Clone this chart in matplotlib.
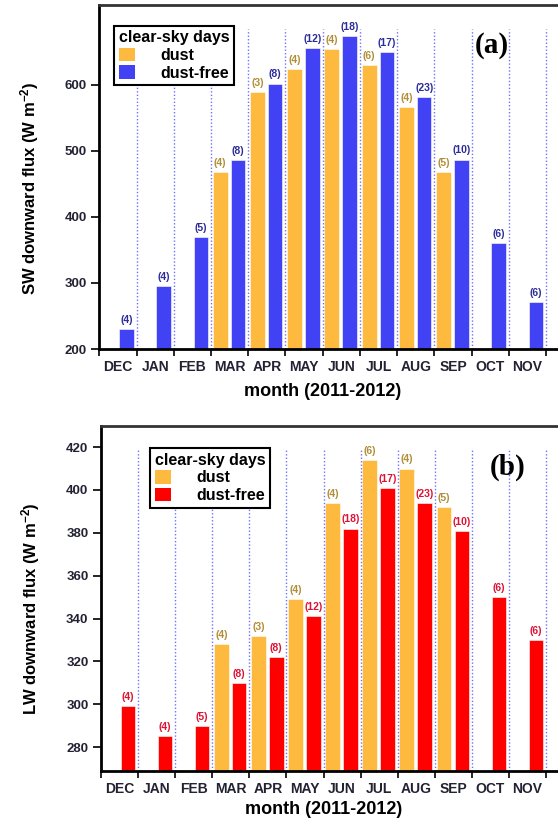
import numpy as np
import matplotlib.pyplot as plt
from matplotlib.patches import Patch

plt.rcParams['font.family'] = ['Liberation Sans', 'DejaVu Sans']
plt.rcParams['font.weight'] = 'bold'
plt.rcParams['axes.labelweight'] = 'bold'
plt.rcParams['mathtext.fontset'] = 'custom'
plt.rcParams['mathtext.rm'] = 'Liberation Sans:bold'
plt.rcParams['mathtext.default'] = 'rm'

# data (clear-sky monthly means)
months = ['DEC', 'JAN', 'FEB', 'MAR', 'APR', 'MAY', 'JUN', 'JUL', 'AUG', 'SEP', 'OCT', 'NOV']
sw_dust = [np.nan, np.nan, np.nan, 468, 589, 624, 654, 630, 566, 468, np.nan, np.nan]
sw_free = [230, 295, 369, 486, 602, 656, 674, 650, 581, 487, 360, 271]
lw_dust = [np.nan, np.nan, np.nan, 328, 332, 349, 394, 414, 410, 392, np.nan, np.nan]
lw_free = [299, 285, 290, 310, 322, 341, 382, 401, 394, 381, 350, 330]
n_dust = [None, None, None, 4, 3, 4, 4, 6, 4, 5, None, None]
n_free = [4, 4, 5, 8, 8, 12, 18, 17, 23, 10, 6, 6]

c_dust = '#FDBA3E'
c_sw = '#4242F5'
c_lw = '#FF0000'
lab_dust = '#B08E36'
lab_sw = '#2B2B99'
lab_lw = '#DD1133'
tick_col = '#222233'

fig = plt.figure(figsize=(5.58, 8.22), dpi=100)
ax1 = fig.add_axes([0.178, 0.5754, 0.822, 0.4185])
ax2 = fig.add_axes([0.181, 0.0624, 0.819, 0.4197])

x = np.arange(len(months))


def panel(ax, dust, free, cfree, labfree, ylim, yticks, ylabel, tag, tagpos, legpos, vtop):
    ax.bar(x + 0.245, dust, width=0.40, color=c_dust, edgecolor='white', linewidth=0.4)
    ax.bar(x + 0.725, free, width=0.39, color=cfree, edgecolor='white', linewidth=0.4)
    # counts of days above the bars
    for i in range(len(months)):
        if n_dust[i] is not None:
            ax.annotate('(%d)' % n_dust[i], (x[i] + 0.245, dust[i]), xytext=(0, 3),
                        textcoords='offset points', ha='center', va='bottom',
                        fontsize=7.5, color=lab_dust)
        ax.annotate('(%d)' % n_free[i], (x[i] + 0.725, free[i]), xytext=(0, 3),
                    textcoords='offset points', ha='center', va='bottom',
                    fontsize=7.5, color=labfree)
    # dotted month separators
    ax.vlines(np.arange(1, 13), ylim[0], vtop, colors='#7070FF', linestyles=(0, (1, 1.5)), linewidth=1)

    ax.set_xlim(0, 12.32)
    ax.set_ylim(*ylim)
    ax.set_yticks(yticks)
    ax.set_xticks(np.arange(0, 13))
    ax.set_xticklabels([])
    ax.set_xticks(x + 0.5, minor=True)
    ax.set_xticklabels(months, minor=True)
    ax.tick_params(axis='x', which='major', direction='out', length=5, width=1.2)
    ax.tick_params(axis='x', which='minor', length=0, pad=8, labelsize=10, labelcolor=tick_col)
    ax.tick_params(axis='y', direction='out', length=6, width=1.2, pad=3, labelsize=9.5,
                   labelcolor=tick_col)

    ax.spines['right'].set_visible(False)
    ax.spines['left'].set_linewidth(2)
    ax.spines['bottom'].set_linewidth(2)
    ax.spines['top'].set_linewidth(2)
    ax.spines['top'].set_color('#333333')

    ax.set_ylabel(ylabel, fontsize=12)
    ax.set_xlabel('month (2011-2012)', fontsize=13)
    ax.text(tagpos[0], tagpos[1], tag, fontsize=21, fontweight='bold',
            family='Liberation Serif', ha='center', va='center')

    handles = [Patch(facecolor=c_dust, label='dust'), Patch(facecolor=cfree, label='dust-free')]
    leg = ax.legend(handles=handles, title='clear-sky days', loc='upper left',
                    bbox_to_anchor=legpos, fancybox=False, framealpha=1,
                    edgecolor='black', fontsize=11.5, title_fontsize=11.5,
                    handlelength=1.0, handleheight=0.9, handletextpad=1.6,
                    borderpad=0.3, labelspacing=0.15, borderaxespad=0)
    leg.get_frame().set_linewidth(1.5)
    leg.get_title().set_fontweight('bold')


panel(ax1, sw_dust, sw_free, c_sw, lab_sw, (200, 721), [200, 300, 400, 500, 600],
      'SW downward flux (W m$^{-2}$)', '(a)', (10.55, 660), (0.032, 0.94), 685)
panel(ax2, lw_dust, lw_free, c_lw, lab_lw, (269, 430), np.arange(280, 421, 20),
      'LW downward flux (W m$^{-2}$)', '(b)', (10.95, 410.5), (0.107, 0.935), 419)

ax1.yaxis.set_label_coords(-0.128, 0.468)
ax2.yaxis.set_label_coords(-0.13, 0.47)
ax1.xaxis.set_label_coords(0.487, -0.1)
ax2.xaxis.set_label_coords(0.487, -0.088)

plt.savefig('out.png', dpi=100)
